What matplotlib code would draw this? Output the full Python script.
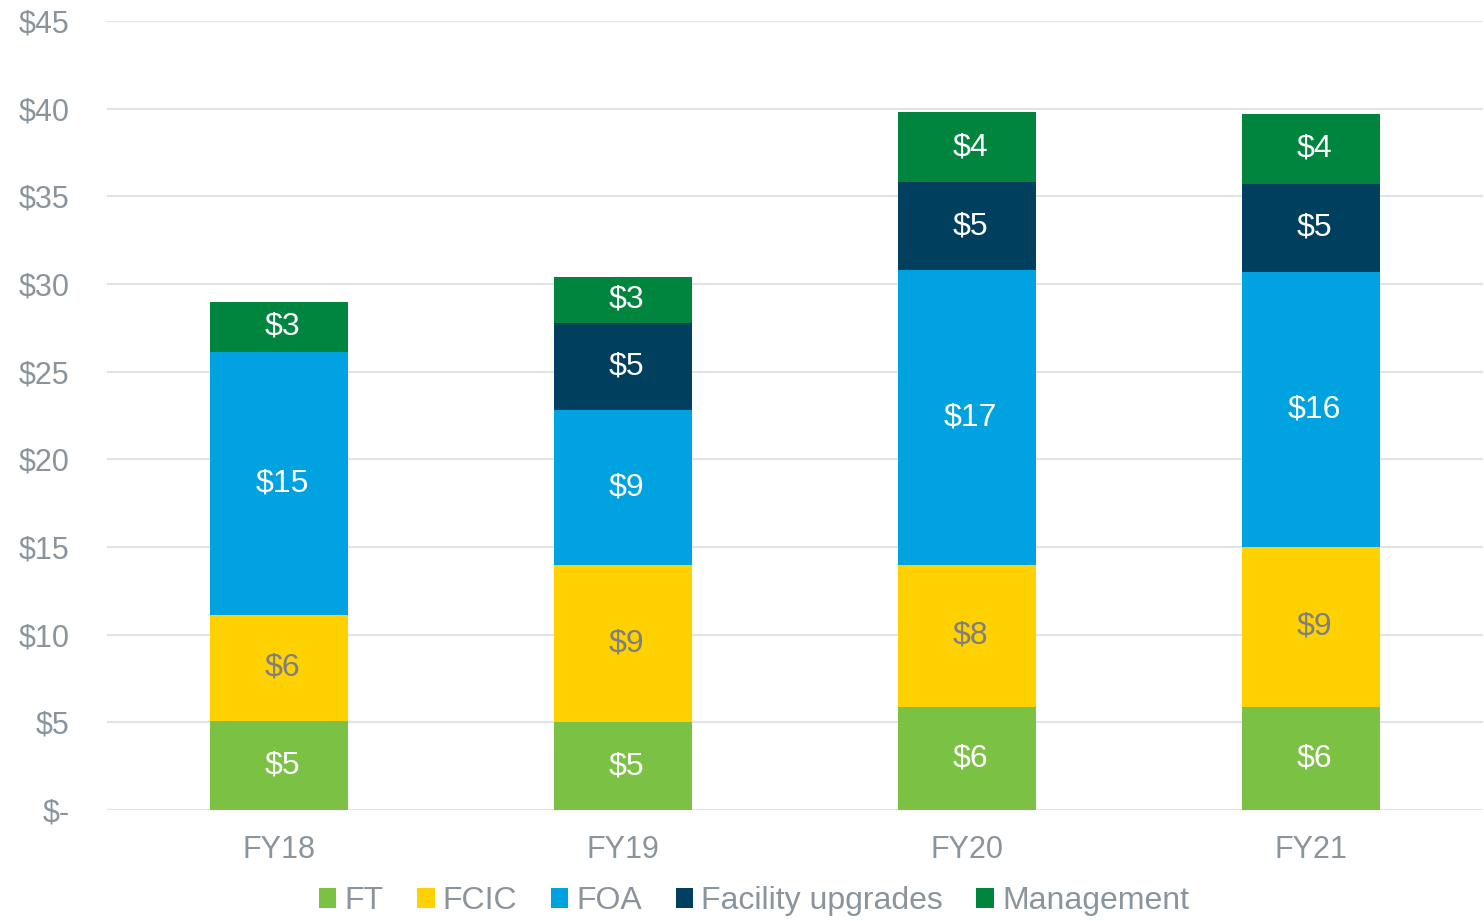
import matplotlib.pyplot as plt
import numpy as np

plt.rcParams['font.family'] = ['Liberation Sans', 'DejaVu Sans']

years = ['FY18', 'FY19', 'FY20', 'FY21']
series = ['FT', 'FCIC', 'FOA', 'Facility upgrades', 'Management']
ft = [5.1, 5.0, 5.9, 5.9]
fcic = [6.0, 9.0, 8.1, 9.1]
foa = [15.0, 8.8, 16.8, 15.7]
facility = [0, 5.0, 5.0, 5.0]
management = [2.9, 2.6, 4.0, 4.0]
colors = ['#7BC143', '#FFD100', '#00A3E0', '#003F5E', '#00853F']
label_colors = ['white', '#7F7F7F', 'white', 'white', 'white']

gris = '#8A949C'
values = [ft, fcic, foa, facility, management]

fig = plt.figure(figsize=(14.84, 9.21), dpi=100)
ax = fig.add_axes([0.0722, 0.1205, 0.927, 0.8567])

x = np.arange(len(years))
bottom = np.zeros(len(years))
for i in range(len(series)):
    v = np.array(values[i])
    ax.bar(x, v, 0.4, bottom=bottom, color=colors[i], label=series[i], zorder=2)
    for j in range(len(years)):
        if v[j] > 0:
            ax.text(x[j] + 0.01, bottom[j] + v[j] / 2, '$%d' % round(v[j]), ha='center', va='center',
                    color=label_colors[i], fontsize=23)
    bottom = bottom + v

ax.set_xlim(-0.5, 3.5)
ax.set_ylim(0, 45)
ax.set_yticks(range(0, 50, 5))
ax.set_yticklabels(['$-'] + ['$%d' % t for t in range(5, 50, 5)])
ax.set_xticks(x)
ax.set_xticklabels(years)
ax.tick_params(length=0, labelsize=22, colors=gris)
ax.tick_params(axis='x', pad=18)
ax.tick_params(axis='y', pad=27)
ax.yaxis.grid(True, color='#E3E3E3', linewidth=1.5, zorder=0)
for s in ax.spines.values():
    s.set_visible(False)

leg = fig.legend(loc='lower center', bbox_to_anchor=(0.508, -0.026), ncol=5, frameon=False,
                 fontsize=23, handlelength=0.55, handleheight=0.55, handletextpad=0.25,
                 columnspacing=1.05)
for t in leg.get_texts():
    t.set_color(gris)

fig.savefig('out.png', dpi=100)
